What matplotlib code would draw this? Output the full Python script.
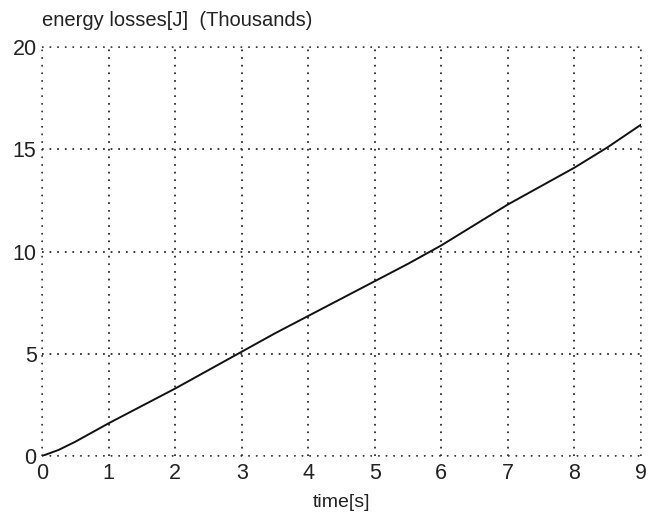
import matplotlib
matplotlib.use("Agg")
import matplotlib.pyplot as plt

time_s = [0, 0.25, 0.5, 1, 1.5, 2, 2.5, 3, 3.5, 4, 4.5, 5, 5.5, 6, 6.5, 7, 7.5, 8, 8.5, 9]
energy_k = [0, 0.3, 0.7, 1.6, 2.45, 3.3, 4.2, 5.1, 6.0, 6.85, 7.7, 8.55, 9.4, 10.3, 11.3, 12.3, 13.2, 14.1, 15.1, 16.2]
xticks = list(range(0, 10))
yticks = [0, 5, 10, 15, 20]

plt.rcParams['font.family'] = ['Liberation Sans', 'DejaVu Sans']
fig = plt.figure(figsize=(6.48, 5.29), dpi=100)
ax = fig.add_axes([0.065, 0.138, 0.924, 0.773])
ax.plot(time_s, energy_k, color='#111111', lw=1.4, zorder=3)
ax.set_xlim(0, 9)
ax.set_ylim(0, 20)
ax.set_xticks(xticks)
ax.set_yticks(yticks)
for s in ax.spines.values():
    s.set_visible(False)
ax.tick_params(length=0, labelsize=15.5, colors='#222222')
ax.tick_params(axis='y', pad=4)
ax.tick_params(axis='x', pad=5)
ax.grid(True, color='#333333', linestyle=(0, (1, 4)), linewidth=1.1)
for y in yticks:
    ax.axhline(y, color='#333333', linestyle=(0, (1, 4)), linewidth=1.1, clip_on=False, zorder=1)
for x in xticks:
    ax.axvline(x, color='#333333', linestyle=(0, (1, 4)), linewidth=1.1, clip_on=False, zorder=1)
ax.set_xlabel('time[s]', fontsize=14, color='#222222', labelpad=7)
fig.text(42/648, 1 - 20/529, 'energy losses[J]  (Thousands)', fontsize=14.5, color='#222222', va='center', ha='left')
fig.savefig('out.png', dpi=100)
